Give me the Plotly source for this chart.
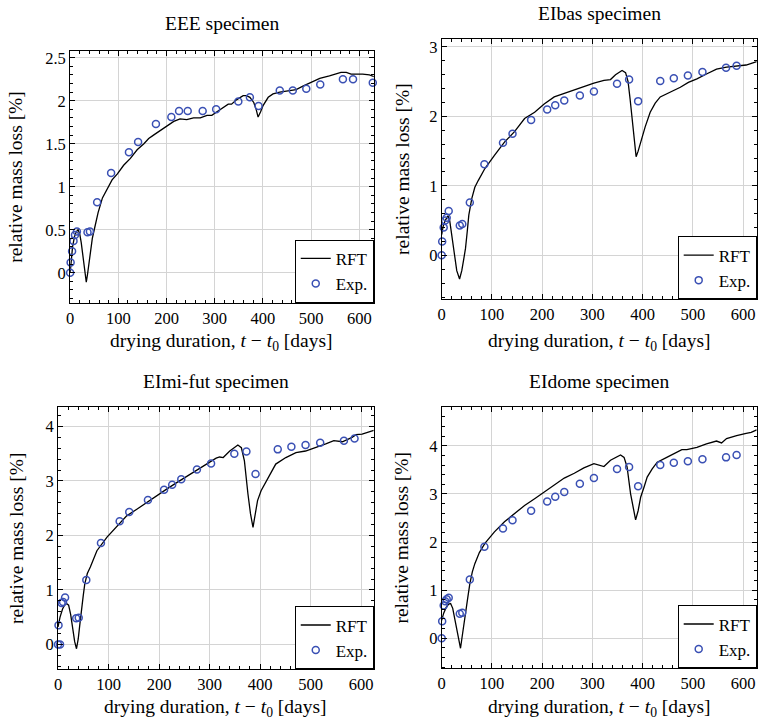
import plotly.graph_objects as go

# ---------------- data ----------------
t_exp = [0, 1, 4, 7, 10, 14, 36, 41, 56, 85, 122, 141, 178, 210, 226, 244, 275, 303,
         349, 373, 391, 435, 462, 490, 519, 566, 587, 628]

eee_exp = [0, 0.12, 0.25, 0.37, 0.44, 0.48, 0.47, 0.48, 0.82, 1.16, 1.40, 1.52, 1.73, 1.81,
           1.88, 1.88, 1.88, 1.90, 1.99, 2.04, 1.94, 2.12, 2.12, 2.14, 2.19, 2.25, 2.25, 2.21]
eibas_exp = [0, 0.20, 0.40, 0.50, 0.54, 0.64, 0.43, 0.45, 0.76, 1.31, 1.62, 1.75, 1.95, 2.10,
             2.16, 2.23, 2.30, 2.36, 2.47, 2.53, 2.22, 2.51, 2.55, 2.59, 2.64, 2.70, 2.73, 2.76]
eimi_exp = [0, 0.35, 0.0, 0.76, 0.78, 0.86, 0.48, 0.49, 1.18, 1.86, 2.26, 2.43, 2.65, 2.84,
            2.93, 3.03, 3.21, 3.32, 3.50, 3.54, 3.13, 3.58, 3.63, 3.66, 3.70, 3.74, 3.78, 3.85]
eidome_exp = [0, 0.35, 0.68, 0.77, 0.81, 0.84, 0.51, 0.53, 1.22, 1.90, 2.28, 2.45, 2.65, 2.84,
              2.94, 3.04, 3.21, 3.33, 3.52, 3.56, 3.16, 3.60, 3.65, 3.68, 3.72, 3.76, 3.81, 3.87]

eee_rft_t = [0, 2, 5, 9, 13, 16.5, 20, 23, 26, 30, 33.5, 36, 40, 43, 46, 50, 54, 58, 67, 77, 87,
             98, 111, 125, 139, 153, 163, 173, 187, 201, 215, 228, 242, 256, 270, 284, 294, 304,
             318, 328, 335, 345, 359, 366, 373, 381, 386, 390, 395, 400, 411, 421, 435, 456, 469,
             483, 500, 518, 538, 552, 562, 573, 583, 607, 621, 631]
eee_rft = [0.0, 0.15, 0.30, 0.42, 0.48, 0.50, 0.45, 0.35, 0.22, 0.05, -0.11, -0.02, 0.17, 0.30,
           0.40, 0.50, 0.60, 0.70, 0.87, 0.98, 1.08, 1.15, 1.25, 1.33, 1.43, 1.50, 1.56, 1.60,
           1.65, 1.70, 1.76, 1.79, 1.78, 1.80, 1.80, 1.83, 1.83, 1.87, 1.92, 1.96, 1.96, 2.01,
           2.06, 2.06, 2.04, 1.98, 1.90, 1.81, 1.87, 1.94, 2.04, 2.08, 2.10, 2.12, 2.13, 2.17,
           2.21, 2.26, 2.29, 2.31, 2.33, 2.33, 2.31, 2.31, 2.30, 2.28]

eibas_rft_t = [0, 3, 7, 12.5, 16, 20, 25, 30, 35.6, 40, 44, 47.4, 51, 54, 60, 66, 73, 86, 105,
               125, 145, 165, 185, 204, 224, 244, 264, 283, 303, 323, 336, 346, 359, 366, 371,
               375, 379, 383, 387, 391, 396, 405, 415, 425, 435, 455, 475, 491, 508, 527, 547,
               567, 587, 606, 627]
eibas_rft = [0.30, 0.42, 0.50, 0.57, 0.50, 0.30, 0.0, -0.22, -0.34, -0.22, -0.05, 0.10, 0.35,
             0.58, 0.82, 0.98, 1.08, 1.25, 1.44, 1.63, 1.78, 1.97, 2.06, 2.18, 2.28, 2.33, 2.39,
             2.43, 2.48, 2.52, 2.53, 2.60, 2.66, 2.63, 2.50, 2.25, 1.97, 1.65, 1.42, 1.50, 1.63,
             1.85, 2.06, 2.19, 2.28, 2.35, 2.42, 2.49, 2.54, 2.61, 2.68, 2.71, 2.73, 2.74, 2.79]

eimi_rft_t = [0, 4, 9, 13, 17, 21, 25, 29, 33, 36.6, 40, 43, 46, 50, 53, 58, 64, 69, 77, 97, 117,
              136, 156, 176, 195, 215, 235, 254, 274, 294, 313, 320, 327, 340, 356, 363, 369, 376,
              381, 386, 390, 395, 402, 409, 420, 431, 451, 471, 490, 510, 530, 546, 563, 582, 590,
              602, 625]
eimi_rft = [0.32, 0.50, 0.65, 0.72, 0.75, 0.72, 0.55, 0.30, 0.05, -0.08, 0.10, 0.35, 0.62, 0.90,
            1.11, 1.30, 1.42, 1.54, 1.72, 1.97, 2.18, 2.36, 2.48, 2.61, 2.73, 2.85, 2.97, 3.08,
            3.19, 3.31, 3.42, 3.44, 3.43, 3.55, 3.66, 3.61, 3.37, 2.76, 2.40, 2.15, 2.35, 2.64,
            2.82, 2.94, 3.15, 3.31, 3.43, 3.52, 3.55, 3.61, 3.68, 3.74, 3.72, 3.80, 3.85, 3.86, 3.93]

eidome_rft_t = [0, 4, 9, 14, 17.8, 22, 27, 32, 37.5, 41, 44, 47.4, 52, 56, 61, 66, 75, 86, 105,
                125, 145, 165, 185, 204, 224, 244, 264, 283, 303, 316, 323, 336, 356, 363, 369,
                376, 381, 386, 391, 396, 403, 409, 419, 429, 448, 468, 478, 488, 508, 527, 547,
                557, 567, 587, 597, 606, 616, 627]
eidome_rft = [0.37, 0.52, 0.64, 0.71, 0.72, 0.62, 0.35, 0.05, -0.21, 0.05, 0.30, 0.51, 0.85,
              1.13, 1.38, 1.55, 1.78, 1.97, 2.21, 2.42, 2.59, 2.76, 2.90, 3.04, 3.18, 3.33, 3.43,
              3.54, 3.63, 3.59, 3.57, 3.70, 3.81, 3.76, 3.56, 3.00, 2.70, 2.46, 2.65, 2.93, 3.15,
              3.35, 3.52, 3.66, 3.76, 3.87, 3.92, 3.92, 3.97, 4.04, 4.10, 4.06, 4.15, 4.21, 4.24,
              4.26, 4.28, 4.33]

titles = ["EEE specimen", "EIbas specimen", "EImi-fut specimen", "EIdome specimen"]
x_title = "drying duration, <i>t</i> − <i>t</i><sub>0</sub> [days]"
y_title = "relative mass loss [%]"

# ---------------- layout geometry (pixels) ----------------
W, H = 758, 726
FONT = "Liberation Serif, 'Times New Roman', 'DejaVu Serif', serif"
TXT = 19.5
LEG = 17
TICK = 16.5
BLUE = "#3a50b4"

panels = [
    dict(rt=eee_rft_t, r=eee_rft, e=eee_exp, box=(66.5, 371.7, 49, 301.7),
         xr=[0, 630], yr=[-0.35, 2.58], ydt=0.5, ymin=0.1, ttl_y=22, xt_y=341, yt_x=12),
    dict(rt=eibas_rft_t, r=eibas_rft, e=eibas_exp, box=(440, 756.7, 36.7, 298.3),
         xr=[0, 627], yr=[-0.635, 3.12], ydt=1, ymin=0.2, ttl_y=12, xt_y=341, yt_x=400),
    dict(rt=eimi_rft_t, r=eimi_rft, e=eimi_exp, box=(54.3, 371.7, 406, 669.3),
         xr=[0, 625], yr=[-0.46, 4.36], ydt=1, ymin=0.2, ttl_y=381, xt_y=708, yt_x=12),
    dict(rt=eidome_rft_t, r=eidome_rft, e=eidome_exp, box=(440, 756.7, 406, 668.3),
         xr=[0, 627], yr=[-0.63, 4.81], ydt=1, ymin=0.2, ttl_y=381, xt_y=708, yt_x=400),
]

fig = go.Figure()
annotations = []
layout = {}

for i, p in enumerate(panels):
    k = "" if i == 0 else str(i + 1)
    leg = "legend" + k
    x0, x1, y0, y1 = p["box"]
    fig.add_trace(go.Scatter(x=p["rt"], y=p["r"], mode="lines", name="RFT",
                             line=dict(color="black", width=1.3),
                             xaxis="x" + k, yaxis="y" + k, legend=leg))
    fig.add_trace(go.Scatter(x=t_exp, y=p["e"], mode="markers", name="Exp.",
                             marker=dict(symbol="circle-open", size=7, color=BLUE,
                                         line=dict(width=1.5, color=BLUE)),
                             cliponaxis=False,
                             xaxis="x" + k, yaxis="y" + k, legend=leg))
    common = dict(showline=True, linecolor="black", linewidth=1, mirror="ticks",
                  ticks="inside", ticklen=5, tickcolor="black", showgrid=True,
                  gridcolor="#d4d4d4", gridwidth=1, zeroline=False,
                  tickfont=dict(family=FONT, size=TICK, color="black"))
    layout["xaxis" + k] = dict(common, domain=[x0 / W, x1 / W], range=p["xr"],
                               anchor="y" + k, dtick=100, tick0=0,
                               minor=dict(dtick=20, tick0=0, ticks="inside", ticklen=3,
                                          tickcolor="black", showgrid=False))
    layout["yaxis" + k] = dict(common, domain=[1 - y1 / H, 1 - y0 / H], range=p["yr"],
                               anchor="x" + k, dtick=p["ydt"], tick0=0,
                               minor=dict(dtick=p["ymin"], tick0=0, ticks="inside",
                                          ticklen=3, tickcolor="black", showgrid=False))
    layout[leg] = dict(x=x1 / W, y=1 - y1 / H, xanchor="right", yanchor="bottom",
                       bordercolor="black", borderwidth=1, bgcolor="white",
                       font=dict(family=FONT, size=LEG, color="black"),
                       itemwidth=30, tracegroupgap=0)
    cx = (x0 + x1) / 2
    annotations.append(dict(text=titles[i], x=cx / W, y=1 - p["ttl_y"] / H, xref="paper",
                            yref="paper", showarrow=False, xanchor="center", yanchor="middle",
                            font=dict(family=FONT, size=TXT, color="black")))
    annotations.append(dict(text=x_title, x=cx / W, y=1 - p["xt_y"] / H, xref="paper",
                            yref="paper", showarrow=False, xanchor="center", yanchor="middle",
                            font=dict(family=FONT, size=TXT, color="black")))
    annotations.append(dict(text=y_title, x=p["yt_x"] / W, y=1 - ((y0 + y1) / 2) / H,
                            xref="paper", yref="paper", showarrow=False, textangle=-90,
                            xanchor="center", yanchor="middle",
                            font=dict(family=FONT, size=TXT, color="black")))

fig.update_layout(width=W, height=H, margin=dict(l=0, r=0, t=0, b=0),
                  paper_bgcolor="white", plot_bgcolor="white",
                  font=dict(family=FONT, size=TICK, color="black"),
                  annotations=annotations, showlegend=True, **layout)

fig.write_html("out.html", config={"displayModeBar": False},
               post_script="document.body.style.margin='0';document.body.style.overflow='hidden';")
